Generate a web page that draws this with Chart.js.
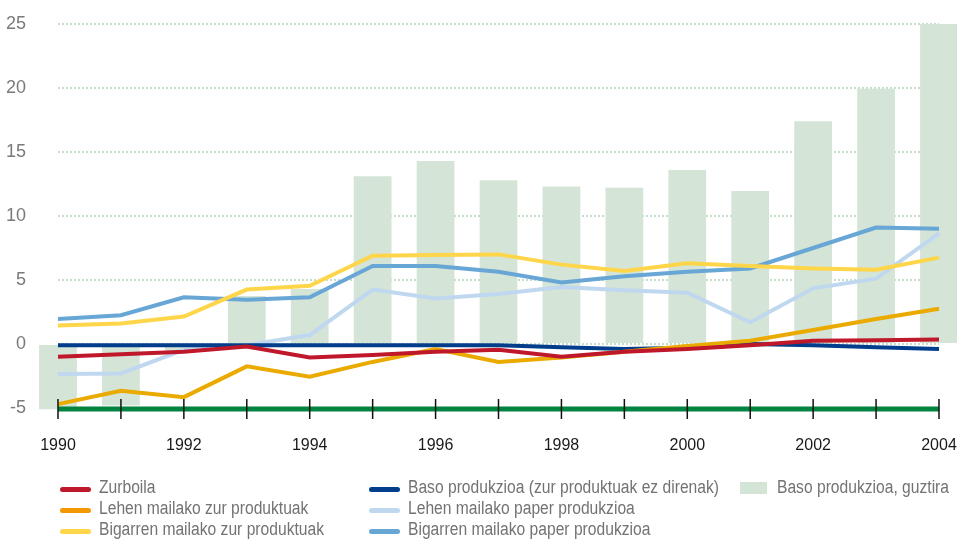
<!DOCTYPE html>
<html>
<head>
<meta charset="utf-8">
<script src="https://cdn.jsdelivr.net/npm/chart.js@4.4.0/dist/chart.umd.min.js"></script>
<style>
  html, body { margin: 0; padding: 0; background: #fff; }
  #wrap { position: relative; width: 957px; height: 539px; }
  #legend { position: absolute; left: 0; top: 0; width: 957px; height: 539px; pointer-events: none;
    font-family: "Liberation Sans", Arial, sans-serif; font-size: 18px; color: #737373; }
  .item { position: absolute; white-space: nowrap; line-height: 20px; transform-origin: 0 50%; }
  .swatch { position: absolute; }
</style>
</head>
<body>
<div id="wrap">
  <canvas id="chart" width="957" height="539"></canvas>
  <div id="legend"></div>
</div>
<script>
/* --------------- Data --------------------- */
const years = ["1990", "1991", "1992", "1993", "1994", "1995", "1996", "1997",
  "1998", "1999", "2000", "2001", "2002", "2003", "2004"];

const zurboila = [-1.0, -0.8, -0.6, -0.2, -1.05, -0.85, -0.6, -0.45, -1.0, -0.6, -0.4, -0.1, 0.25, 0.3, 0.35];
const lehenZur = [-4.7, -3.65, -4.15, -1.75, -2.55, -1.4, -0.4, -1.4, -1.05, -0.6, -0.15, 0.25, 1.1, 1.95, 2.75];
const bigarrenZur = [1.45, 1.6, 2.15, 4.25, 4.55, 6.9, 6.95, 7.0, 6.2, 5.7, 6.3, 6.1, 5.9, 5.8, 6.75];
const basoEzZur = [-0.1, -0.1, -0.1, -0.1, -0.1, -0.1, -0.1, -0.1, -0.25, -0.4, -0.3, 0.0, -0.1, -0.25, -0.4];
const lehenPaper = [-2.35, -2.3, -0.45, -0.1, 0.7, 4.25, 3.55, 3.9, 4.45, 4.2, 4.0, 1.7, 4.35, 5.1, 8.65];
const bigarrenPaper = [1.95, 2.25, 3.65, 3.45, 3.65, 6.1, 6.1, 5.65, 4.8, 5.3, 5.65, 5.9, 7.5, 9.1, 9.0];
const basoGuztira = [-5.1, -4.8, -0.5, 3.75, 4.3, 13.1, 14.3, 12.8, 12.3, 12.2, 13.6, 11.95, 17.4, 19.95, 25.0];

const yTicks = [-5, 0, 5, 10, 15, 20, 25];

/* --------------- Series names and colors --------------------- */
const lineNames = [
  "Zurboila",
  "Lehen mailako zur produktuak",
  "Bigarren mailako zur produktuak",
  "Baso produkzioa (zur produktuak ez direnak)",
  "Lehen mailako paper produkzioa",
  "Bigarren mailako paper produkzioa",
];
const lineValues = [zurboila, lehenZur, bigarrenZur, basoEzZur, lehenPaper, bigarrenPaper];
const lineColors = ["#c0182b", "#eaaa00", "#ffd54a", "#003e8c", "#bfd8ef", "#68a6d6"];
const legendColors = ["#c0182b", "#f39800", "#ffd54a", "#003e8c", "#bfd8ef", "#68a6d6"];
const barName = "Baso produkzioa, guztira";
const barColor = "#d4e4d6";

const FONT = "'Liberation Sans', Arial, sans-serif";

/* --------------- Datasets --------------------- */
const datasets = lineValues.map((vals, i) => ({
  type: "line",
  label: lineNames[i],
  data: vals,
  borderColor: lineColors[i],
  backgroundColor: lineColors[i],
  borderWidth: 4,
  pointRadius: 0,
  tension: 0,
  clip: false,
  order: 1,
}));
datasets.push({
  type: "bar",
  label: barName,
  data: basoGuztira,
  backgroundColor: barColor,
  barPercentage: 0.6,
  categoryPercentage: 1,
  clip: false,
  order: 10,
});

/* --------------- Green base axis with ticks --------------------- */
const baseAxis = {
  id: "baseAxis",
  afterDatasetsDraw(chart) {
    const { ctx, chartArea, scales } = chart;
    const y = scales.y.getPixelForValue(yTicks[0]) + 1;
    ctx.save();
    ctx.strokeStyle = "#00843f";
    ctx.lineWidth = 5;
    ctx.beginPath();
    ctx.moveTo(chartArea.left, y);
    ctx.lineTo(chartArea.right, y);
    ctx.stroke();
    ctx.strokeStyle = "#111";
    ctx.lineWidth = 1.5;
    scales.x.ticks.forEach((t, i) => {
      const x = scales.x.getPixelForTick(i);
      ctx.beginPath();
      ctx.moveTo(x, y - 10);
      ctx.lineTo(x, y + 10);
      ctx.stroke();
    });
    ctx.restore();
  },
};

/* --------------- Chart --------------------- */
new Chart(document.getElementById("chart"), {
  data: { labels: years, datasets: datasets },
  plugins: [baseAxis],
  options: {
    responsive: false,
    animation: false,
    layout: { padding: { top: 24, right: 18, left: 0, bottom: 0 } },
    plugins: { legend: { display: false }, tooltip: { enabled: false } },
    scales: {
      x: {
        type: "category",
        offset: false,
        border: { display: false },
        grid: { display: false },
        afterFit: (s) => { s.height = 131; s.paddingLeft = 0; s.paddingRight = 0; },
        ticks: {
          autoSkip: false,
          maxRotation: 0,
          padding: 20,
          color: "#1a1a1a",
          font: { family: FONT, size: 16 },
          callback: (v, i) => (i % 2 === 0 ? years[i] : ""),
        },
      },
      y: {
        min: yTicks[0],
        max: yTicks[yTicks.length - 1],
        border: { display: false, dash: [2, 2] },
        afterFit: (s) => { s.width = 58; s.paddingTop = 0; s.paddingBottom = 0; },
        afterBuildTicks: (s) => { s.ticks = yTicks.map((v) => ({ value: v })); },
        grid: {
          drawTicks: false,
          color: "#c4dec7",
          lineWidth: 2,
        },
        ticks: {
          padding: 32,
          color: "#7a7a7a",
          font: { family: FONT, size: 18 },
        },
      },
    },
  },
});

/* --------------- Legend (three columns) --------------------- */
const legend = document.getElementById("legend");
const colX = [60, 369];
const rowY = [477, 498, 519];
const texts = [];
const addText = (name, left, top) => {
  const tx = document.createElement("div");
  tx.className = "item";
  tx.style.left = left + "px";
  tx.style.top = top + "px";
  tx.textContent = name;
  legend.appendChild(tx);
  texts.push(tx);
};
lineNames.forEach((name, i) => {
  const col = Math.floor(i / 3), row = i % 3;
  const sw = document.createElement("div");
  sw.className = "swatch";
  sw.style.cssText = `left:${colX[col]}px;top:${rowY[row] + 10}px;width:31px;height:4.5px;border-radius:3px;background:${legendColors[i]}`;
  legend.appendChild(sw);
  addText(name, colX[col] + 39, rowY[row]);
});
const box = document.createElement("div");
box.className = "swatch";
box.style.cssText = `left:740px;top:${rowY[0] + 5}px;width:27px;height:12px;background:${barColor}`;
legend.appendChild(box);
addText(barName, 777, rowY[0]);

// condensed look: squeeze text so the longest label keeps its width
const sx = 311 / texts[3].getBoundingClientRect().width;
texts.forEach((t) => { t.style.transform = `scaleX(${sx})`; });
</script>
</body>
</html>
